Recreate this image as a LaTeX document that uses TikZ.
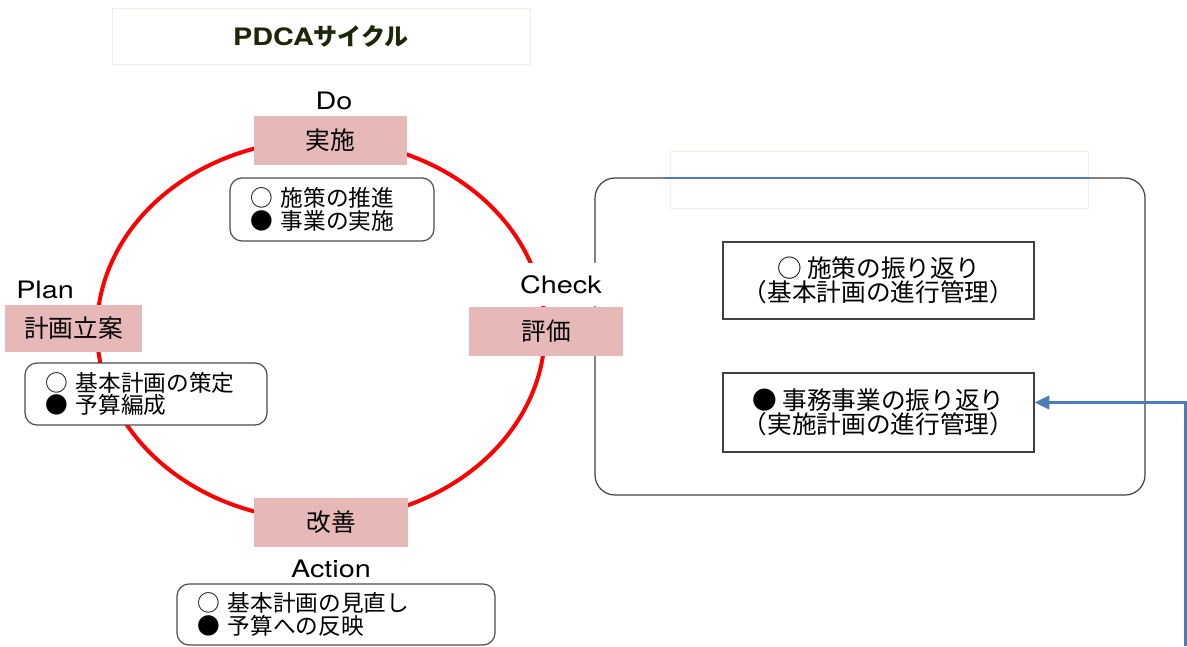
\documentclass[tikz,border=0pt]{standalone}
\usepackage{fontspec}
\setmainfont{Noto Sans CJK JP}
\newfontfamily\latinfont[FakeStretch=1.2]{TeX Gyre Heros}
\usetikzlibrary{arrows.meta}
\definecolor{stagepink}{RGB}{230,184,183}
\definecolor{cyclered}{RGB}{255,0,0}
\definecolor{linkblue}{RGB}{74,126,187}
\definecolor{titlegreen}{RGB}{28,38,8}
\definecolor{faintline}{RGB}{238,240,230}
\tikzset{
  stagebox/.style={fill=stagepink, minimum width=115pt, minimum height=36.75pt, font=\fontsize{18.5}{19}\selectfont},
  stagelabel/.style={font=\latinfont\fontsize{18}{20}\selectfont, inner sep=0pt},
  bulletbox/.style={draw=black!70, line width=0.9pt, fill=white, rounded corners=9pt, align=left, inner xsep=15.5pt, font=\fontsize{17}{17}\selectfont},
  reviewbox/.style={draw=black!75, line width=0.9pt, align=center, minimum width=233.25pt, font=\fontsize{18.5}{18}\selectfont},
}

\begin{document}
\begin{tikzpicture}[x=0.75pt, y=-0.75pt]
  \useasboundingbox (0,0) rectangle (1187,646);

  % Title
  \node[draw=faintline, minimum width=313.5pt, minimum height=42pt, text=titlegreen, font=\bfseries\fontsize{18}{20}\selectfont] (title) at (321,36) {{\latinfont PDCA}サイクル};

  % Cycle
  \draw[cyclered, line width=3pt] (321,330) ellipse [x radius=168pt, y radius=142.5pt];

  % Check area
  \node[draw=faintline, minimum width=313.5pt, minimum height=42.75pt] (note) at (879,179.5) {};
  \node[draw=black!75, line width=0.9pt, rounded corners=15pt, minimum width=412.5pt, minimum height=237.75pt] (review) at (870,336.5) {};
  \coordinate (bluestart) at (664,178);
  \coordinate (blueend) at (1090,178);
  \draw[linkblue, line width=1.5pt] (bluestart) -- (blueend);
  \node[reviewbox, minimum height=57.75pt] (policy) at (878.5,280.5) {○ 施策の振り返り\\（基本計画の進行管理）};
  \node[reviewbox, minimum height=59.25pt] (fact) at (878.5,412.5) {● 事務事業の振り返り\\（実施計画の進行管理）};

  % Stages
  \node[stagebox] (do) at (330.5,140.5) {実施};
  \node[stagebox, minimum width=102.75pt, minimum height=35.25pt] (plan) at (73.5,328.5) {計画立案};
  \node[stagebox] (check) at (546,331.5) {評価};
  \node[stagebox] (act) at (331,522.5) {改善};

  \node[stagelabel] (dolabel) at (334,101) {Do};
  \node[stagelabel, anchor=west] (planlabel) at (16,290) {Plan};
  \node[stagelabel, fill=white, minimum width=99pt, minimum height=32pt] (checklabel) at (561,284.5) {Check};
  \node[stagelabel] (actlabel) at (331,569) {Action};

  % Bullets
  \node[bulletbox, text width=122pt, minimum height=47.25pt] (dobul) at (332,209.5) {○ 施策の推進\\● 事業の実施};
  \node[bulletbox, text width=150.5pt, minimum height=46.5pt] (planbul) at (146,394) {○ 基本計画の策定\\● 予算編成};
  \node[bulletbox, text width=207.5pt, minimum height=45.75pt] (actbul) at (336,614.5) {○ 基本計画の見直し\\● 予算への反映};

  % Feedback arrow
  \coordinate (arrowfoot) at (1185,646);
  \draw[linkblue, line width=2.25pt, -{Triangle[length=11pt, width=10pt]}] (arrowfoot) |- ([yshift=7.5pt]fact.east);
\end{tikzpicture}
\end{document}
